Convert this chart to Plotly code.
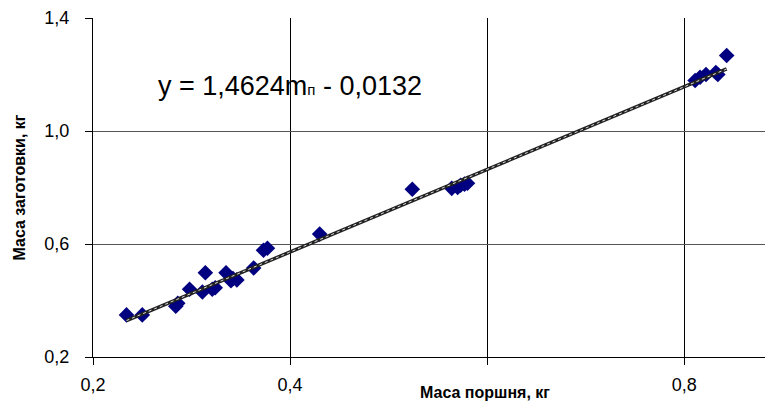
import plotly.graph_objects as go

# data
piston_mass = [0.234, 0.250, 0.284, 0.286, 0.298, 0.311, 0.314, 0.321, 0.324,
               0.335, 0.340, 0.342, 0.346, 0.363, 0.373, 0.377, 0.430,
               0.524, 0.564, 0.570, 0.573, 0.577, 0.580,
               0.811, 0.816, 0.822, 0.832, 0.834, 0.843]
blank_mass = [0.349, 0.349, 0.380, 0.390, 0.440, 0.430, 0.498, 0.440, 0.445,
              0.498, 0.470, 0.478, 0.473, 0.515, 0.578, 0.585, 0.635,
              0.794, 0.797, 0.800, 0.808, 0.812, 0.815,
              1.179, 1.190, 1.200, 1.207, 1.200, 1.267]
slope = 1.4624
intercept = -0.0132
x_ticks = [0.2, 0.4, 0.6, 0.8]
x_tick_text = ["0,2", "0,4", "", "0,8"]
y_ticks = [0.2, 0.6, 1.0, 1.4]
y_tick_text = ["0,2", "0,6", "1,0", "1,4"]

x_fit = [min(piston_mass), max(piston_mass)]
y_fit = [slope * v + intercept for v in x_fit]

fig = go.Figure()
fig.add_trace(go.Scatter(x=piston_mass, y=blank_mass, mode="markers",
                         marker=dict(symbol="diamond", size=12, color="#000080",
                                     line=dict(width=0)),
                         showlegend=False))
fig.add_trace(go.Scatter(x=x_fit, y=y_fit, mode="lines",
                         line=dict(color="#222222", width=3.5), showlegend=False))
fig.add_trace(go.Scatter(x=x_fit, y=y_fit, mode="lines",
                         line=dict(color="#dddddd", width=1, dash="dot"), showlegend=False))

font = "Liberation Sans, Arial, sans-serif"
# the page body has an 8px default margin, so the figure is shrunk by 8px
fig.update_layout(
    width=765, height=397,
    margin=dict(l=85, r=0, t=10, b=48, autoexpand=False),
    paper_bgcolor="white", plot_bgcolor="white",
    font=dict(family=font, color="black"),
    xaxis=dict(range=[0.2, 0.89], tickvals=x_ticks, ticktext=x_tick_text,
               showgrid=True, gridcolor="black", gridwidth=1,
               showline=True, linecolor="black", linewidth=1,
               ticks="outside", ticklen=7, tickcolor="black",
               tickfont=dict(size=18), ticklabelstandoff=4, zeroline=False,
               automargin=False),
    yaxis=dict(range=[0.2, 1.4], tickvals=y_ticks, ticktext=y_tick_text,
               showgrid=True, gridcolor="#555555", gridwidth=1,
               showline=True, linecolor="black", linewidth=1,
               ticks="outside", ticklen=7, tickcolor="black",
               tickfont=dict(size=18), ticklabelstandoff=12, zeroline=False,
               automargin=False),
    annotations=[
        dict(text='y = 1,4624m<span style="font-size:15px">п</span> - 0,0132',
             xref="paper", yref="paper",
             x=(290 - 93) / 680, y=(357 - 86) / 339, xanchor="center", yanchor="middle",
             showarrow=False, font=dict(size=27)),
        dict(text="<b>Маса поршня, кг</b>", xref="paper", yref="paper",
             x=(485 - 93) / 680, y=-(392 - 357) / 339, xanchor="center", yanchor="middle",
             showarrow=False, font=dict(size=16)),
        dict(text="<b>Маса заготовки, кг</b>", xref="paper", yref="paper",
             x=-(93 - 19) / 680, y=0.5, xanchor="center", yanchor="middle",
             textangle=-90, showarrow=False, font=dict(size=16)),
    ],
)
fig.write_html("out.html")
